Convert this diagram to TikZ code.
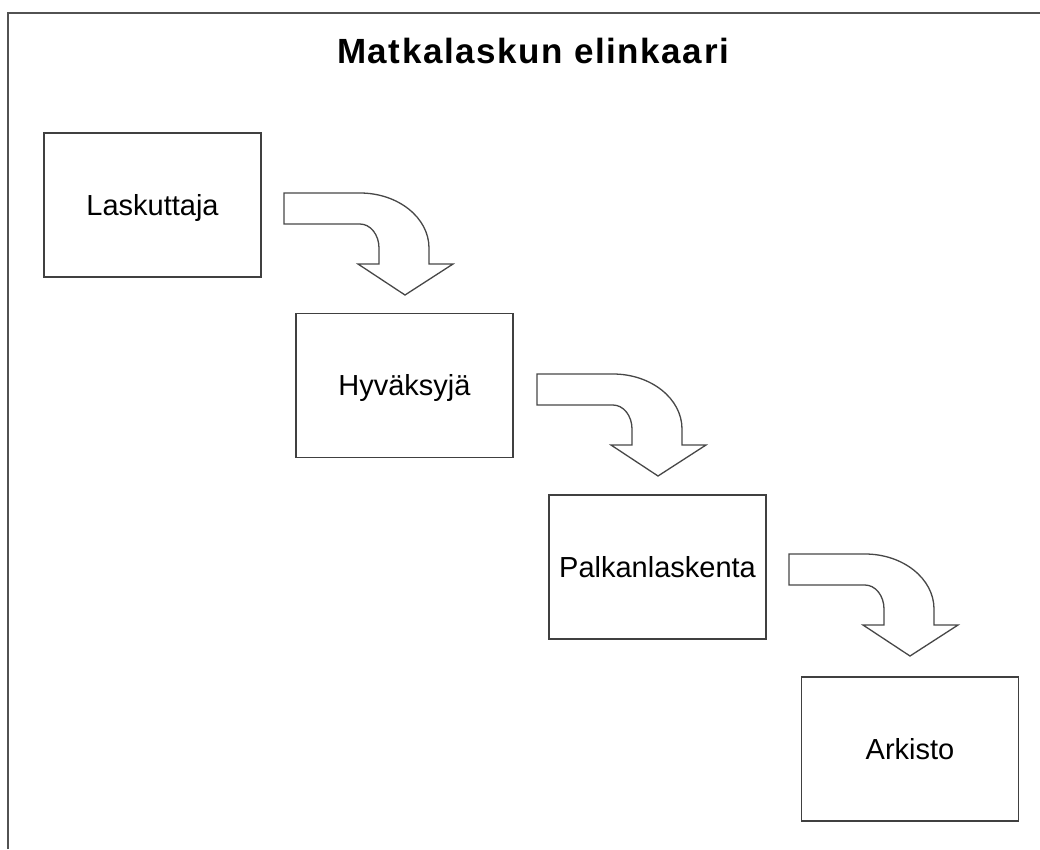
\documentclass[tikz,border=0pt]{standalone}
\usepackage{fontspec}
\setmainfont{Liberation Sans}
\newfontfamily\titlefont[LetterSpace=4.5]{Liberation Sans Bold}
\begin{document}
\begin{tikzpicture}[x=1pt,y=-1pt,
  frameline/.style={draw=black!68,line width=1.8pt},
  stagebox/.style={draw=black!75,line width=1.4pt,fill=white,minimum width=217pt,minimum height=144pt,
    inner sep=0pt,text height=20pt,text depth=0pt,font=\fontsize{29}{31}\selectfont},
  arrowline/.style={draw=black!72,line width=1.3pt,fill=white,line join=miter},
  bentarrow/.pic={
    \path[arrowline] (0,0) -- (76,0) .. controls (114,0) and (145,24.6) .. (145,55)
      -- (145,71) -- (169,71) -- (121,102) -- (74,71) -- (95,71) -- (95,55)
      .. controls (95,41.8) and (86.5,31) .. (76,31) -- (0,31) -- cycle;
  }]
\useasboundingbox (0,0) rectangle (1040,849);
\fill[white] (0,0) rectangle (1040,849);
\coordinate (fa) at (8,849);
\coordinate (fb) at (8,13);
\coordinate (fc) at (1040,13);
\draw[frameline] (fa) -- (fb) -- (fc);
\node[anchor=base west,inner sep=0pt,font=\titlefont\fontsize{35}{37}\selectfont] (title) at (337,63) {Matkalaskun elinkaari};
\node[stagebox] (b1) at (152.5,205) {Laskuttaja};
\node[stagebox] (b2) at (404.5,385.5) {Hyväksyjä};
\node[stagebox] (b3) at (657.5,567) {Palkanlaskenta};
\node[stagebox] (b4) at (910,749) {Arkisto};
\pic (a1) at (284,193) {bentarrow};
\pic (a2) at (537,374) {bentarrow};
\pic (a3) at (789,554) {bentarrow};
\end{tikzpicture}
\end{document}
